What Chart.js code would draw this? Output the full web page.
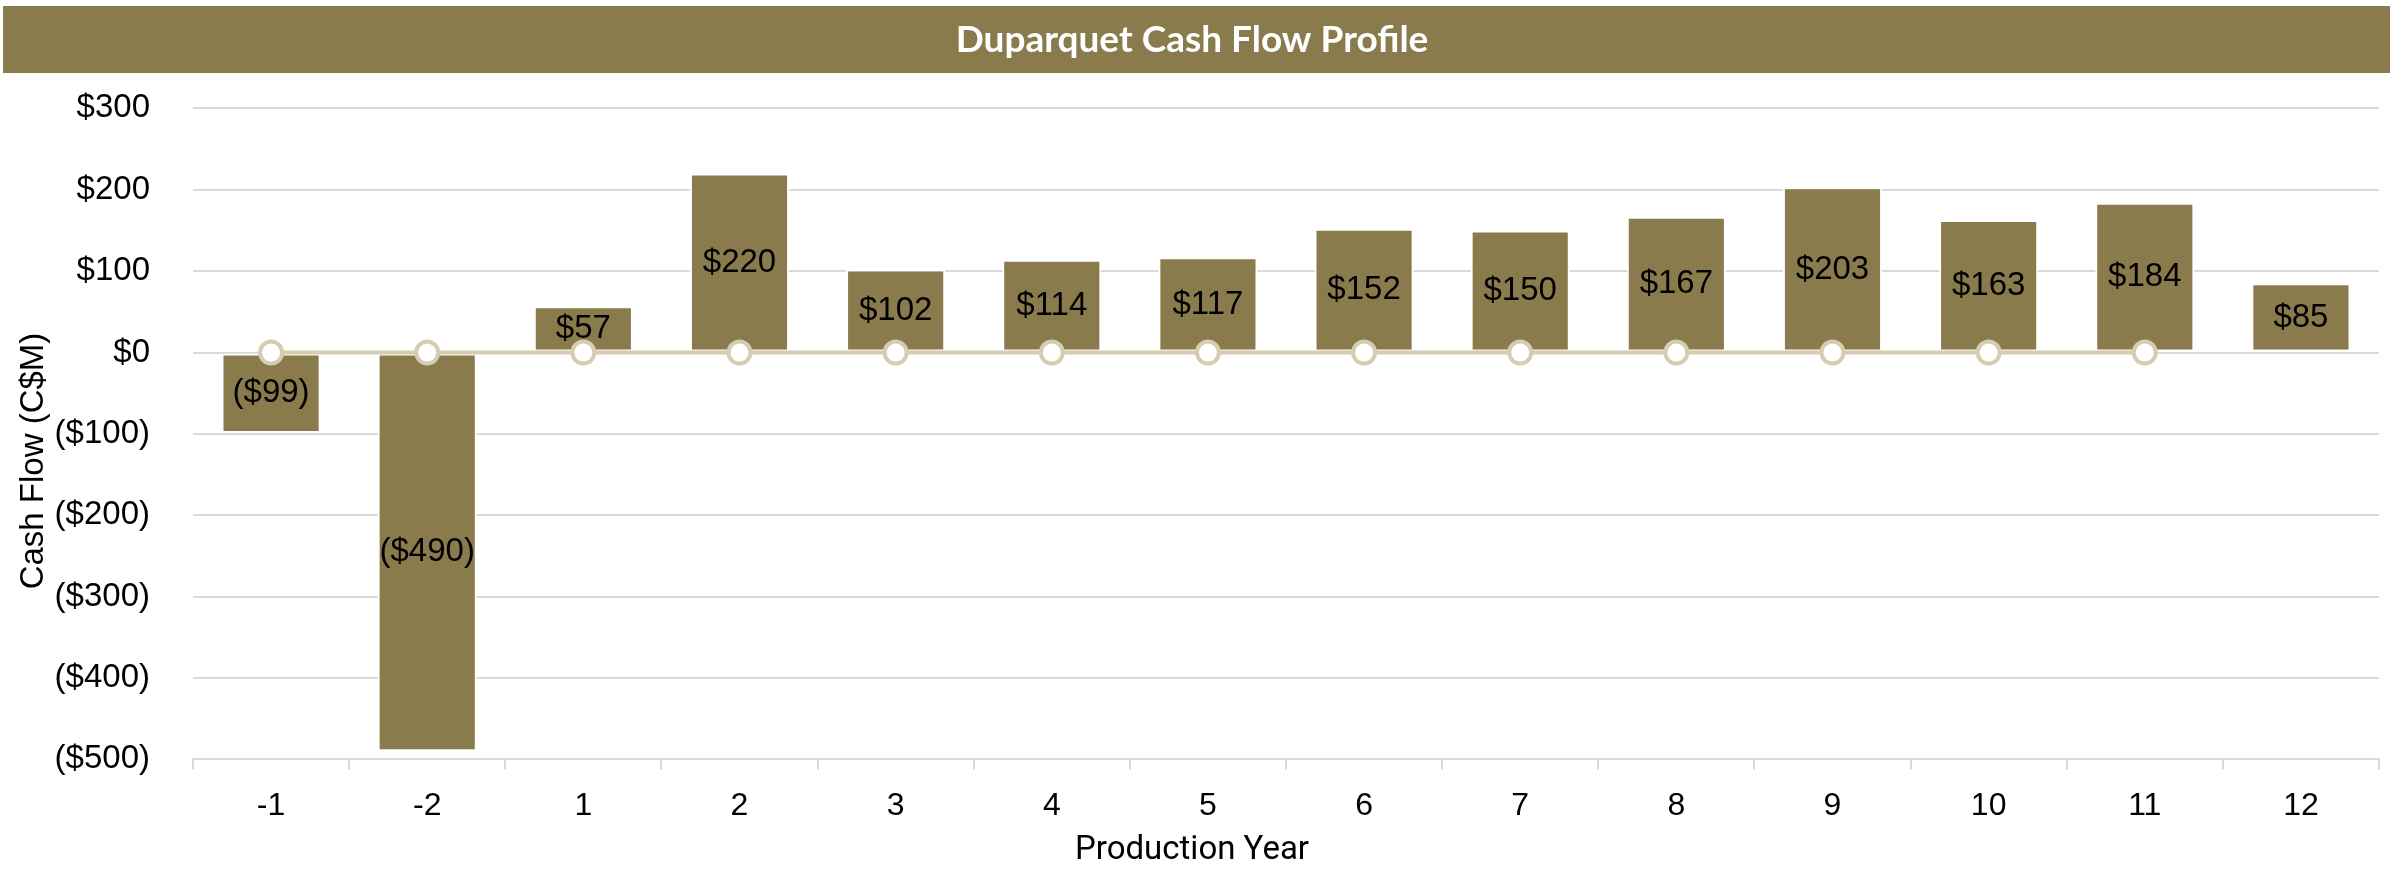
<!DOCTYPE html>
<html>
<head>
<meta charset="utf-8">
<script src="https://cdn.jsdelivr.net/npm/chart.js@4/dist/chart.umd.min.js"></script>
<style>
  html, body { margin: 0; padding: 0; background: #ffffff; }
  #wrap { width: 2394px; height: 873px; }
</style>
</head>
<body>
<div id="wrap"><canvas id="cashflow"></canvas></div>
<script>
// chart data
var years = ['-1', '-2', '1', '2', '3', '4', '5', '6', '7', '8', '9', '10', '11', '12'];
var cashFlow = [-99, -490, 57, 220, 102, 114, 117, 152, 150, 167, 203, 163, 184, 85];
var zeroLine = [0, 0, 0, 0, 0, 0, 0, 0, 0, 0, 0, 0, 0, null];
var yTicks = [300, 200, 100, 0, -100, -200, -300, -400, -500];

var barColor = '#8a7b4d';
var lineColor = '#d6ccb2';
var gridColor = '#d9d9d9';

function money(v) {
    if (v < 0) return '($' + Math.abs(v) + ')';
    return '$' + v;
}

// brown band behind the title + y axis title (Excel puts it a bit low)
var decor = {
    id: 'decor',
    beforeDraw: function (chart) {
        var ctx = chart.ctx;
        ctx.save();
        ctx.fillStyle = barColor;
        ctx.fillRect(3, 6, chart.width - 7, 67);
        ctx.restore();
    },
    afterDraw: function (chart) {
        var ctx = chart.ctx;
        ctx.save();
        ctx.translate(34, 461);
        ctx.rotate(-Math.PI / 2);
        ctx.font = '33px "Liberation Sans", Arial, sans-serif';
        ctx.fillStyle = '#000000';
        ctx.textAlign = 'center';
        ctx.textBaseline = 'middle';
        ctx.fillText('Cash Flow (C$M)', 0, 0);
        ctx.restore();
    }
};

// value labels in the middle of each bar
var barLabels = {
    id: 'barLabels',
    afterDatasetDraw: function (chart, args) {
        if (args.index !== 0) return;
        var ctx = chart.ctx;
        var meta = args.meta;
        ctx.save();
        ctx.font = '33px "Liberation Sans", Arial, sans-serif';
        ctx.fillStyle = '#000000';
        ctx.textAlign = 'center';
        ctx.textBaseline = 'middle';
        meta.data.forEach(function (bar, i) {
            var p = bar.getProps(['x', 'y', 'base'], true);
            ctx.fillText(money(cashFlow[i]), p.x, (p.y + p.base) / 2);
        });
        ctx.restore();
    }
};

new Chart(document.getElementById('cashflow'), {
    type: 'bar',
    data: {
        labels: years,
        datasets: [
            {
                type: 'bar',
                label: 'Cash Flow',
                data: cashFlow,
                backgroundColor: barColor,
                borderColor: '#ffffff',
                borderWidth: 2,
                borderSkipped: false,
                categoryPercentage: 1,
                barPercentage: 0.635,
                order: 2
            },
            {
                type: 'line',
                label: 'Zero',
                data: zeroLine,
                borderColor: lineColor,
                borderWidth: 4,
                pointRadius: 11,
                pointBorderWidth: 4,
                pointBackgroundColor: '#ffffff',
                pointBorderColor: lineColor,
                spanGaps: false,
                order: 1
            }
        ]
    },
    options: {
        responsive: true,
        maintainAspectRatio: false,
        animation: false,
        layout: { padding: { left: 0, right: 10, top: 0, bottom: 0 } },
        plugins: {
            legend: { display: false },
            tooltip: { enabled: false },
            title: {
                display: true,
                text: 'Duparquet Cash Flow Profile',
                color: '#ffffff',
                font: { family: 'Lato', size: 37, weight: 'bold', lineHeight: 1.2 },
                padding: { top: 18, bottom: 46 }
            },
            subtitle: {
                display: true,
                position: 'bottom',
                text: 'Production Year',
                color: '#000000',
                font: { family: 'Roboto', size: 33, lineHeight: 1.2 },
                padding: { top: 0, bottom: 2 }
            }
        },
        scales: {
            x: {
                grid: {
                    display: true,
                    drawOnChartArea: false,
                    drawTicks: true,
                    tickLength: 10,
                    offset: true,
                    color: gridColor,
                    lineWidth: 2
                },
                border: { display: true, color: gridColor, width: 2 },
                ticks: {
                    color: '#000000',
                    font: { family: '"Liberation Sans"', size: 32 },
                    padding: 18,
                    maxRotation: 0
                },
                afterFit: function (scale) { scale.height = 72; }
            },
            y: {
                min: -500,
                max: 300,
                afterBuildTicks: function (scale) {
                    scale.ticks = yTicks.map(function (v) { return { value: v }; });
                },
                grid: { color: gridColor, lineWidth: 2, drawTicks: false },
                border: { display: false },
                ticks: {
                    color: '#000000',
                    font: { family: '"Liberation Sans"', size: 33 },
                    padding: 43,
                    callback: function (value) { return money(value); }
                },
                afterFit: function (scale) { scale.width = 193; }
            }
        }
    },
    plugins: [decor, barLabels]
});
</script>
</body>
</html>
